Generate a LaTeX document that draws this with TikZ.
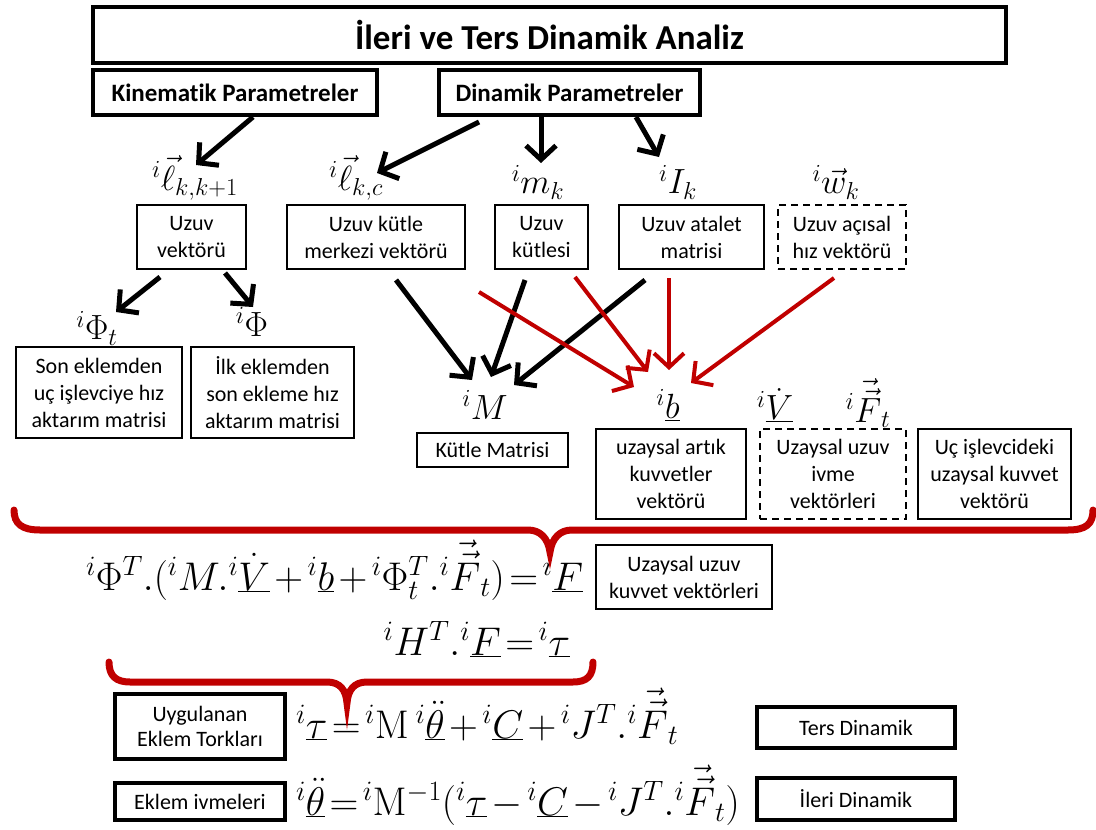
\RequirePackage{fix-cm}
\documentclass[tikz,border=0pt]{standalone}
\usepackage[no-math]{fontspec}
\setmainfont{Carlito}[Ligatures=NoCommon]
\usetikzlibrary{arrows.meta,calc}
\definecolor{bred}{RGB}{192,0,0}
\begin{document}
\begin{tikzpicture}[x=1pt,y=1pt,
 execute at begin picture={\medmuskip=2mu\relax\thickmuskip=2mu\relax},
 tbox/.style={draw, line width=3.5pt, inner sep=0pt, outer sep=0pt, align=center, font=\fontsize{22}{25}\selectfont},
 sbox/.style={draw, line width=1.3pt, inner sep=0pt, outer sep=0pt, align=center, font=\fontsize{22}{27}\selectfont},
 dbox/.style={sbox, dash pattern=on 7pt off 5pt},
 lab/.style={inner sep=0pt, outer sep=0pt, font=\fontsize{35}{40}\selectfont},
 eqn/.style={inner sep=0pt, outer sep=0pt, anchor=base west, font=\fontsize{40}{44}\selectfont},
 barrow/.style={line width=5pt, -{Straight Barb[length=14pt,width=30pt]}},
 rarrow/.style={draw=bred, line width=4pt, -{Straight Barb[length=14pt,width=30pt]}},
 bracepath/.style={draw=bred, line width=7pt, line cap=round}]
\useasboundingbox (0,0) rectangle (1096,-830);
% headers
\node[tbox, minimum width=913pt, minimum height=56pt, font=\fontsize{35}{38}\selectfont\bfseries] (title) at (549.5,-35) {İleri ve Ters Dinamik Analiz};
\node[tbox, minimum width=284pt, minimum height=45pt, font=\fontsize{25}{30}\selectfont\bfseries] (kin) at (235,-92.5) {Kinematik Parametreler};
\node[tbox, minimum width=261pt, minimum height=45pt, font=\fontsize{25}{30}\selectfont\bfseries] (din) at (569.5,-92.5) {Dinamik Parametreler};
% labels row 1
\node[lab] (lkk1) at (195,-178) {${}^{i}\vec{\ell}_{k,k+1}$};
\node[lab] (lkc) at (356,-178) {${}^{i}\vec{\ell}_{k,c}$};
\node[lab] (mk) at (538,-182) {${}^{i}m_{k}$};
\node[lab] (Ik) at (678,-182) {${}^{i}I_{k}$};
\node[lab] (wk) at (836,-182) {${}^{i}\vec{w}_{k}$};
% boxes row 2
\node[sbox, minimum width=109pt, minimum height=64pt] (uv) at (191.5,-237) {Uzuv\\vektörü};
\node[sbox, minimum width=178pt, minimum height=64pt] (ukm) at (376,-237) {Uzuv kütle\\merkezi vektörü};
\node[sbox, minimum width=93pt, minimum height=64pt] (uk) at (541.5,-237) {Uzuv\\kütlesi};
\node[sbox, minimum width=145pt, minimum height=64pt] (ua) at (691.5,-237) {Uzuv atalet\\matrisi};
\node[dbox, minimum width=128pt, minimum height=64pt] (uac) at (842,-237) {Uzuv açısal\\hız vektörü};
% row 3
\node[lab] (phit) at (97,-328) {${}^{i}\Phi_{t}$};
\node[lab] (phi) at (252,-322) {${}^{i}\Phi$};
\node[sbox, minimum width=166pt, minimum height=91pt] (son) at (99,-392.5) {Son eklemden\\uç işlevciye hız\\aktarım matrisi};
\node[sbox, minimum width=163pt, minimum height=91pt] (ilk) at (272.5,-392.5) {İlk eklemden\\son ekleme hız\\aktarım matrisi};
\node[lab] (M) at (485,-405) {${}^{i}M$};
\node[sbox, minimum width=151pt, minimum height=34pt] (kutle) at (492.5,-450) {Kütle Matrisi};
\node[lab] (b) at (668,-405) {${}^{i}\underline{b}$};
\node[lab] (V) at (775,-405) {${}^{i}\underline{\dot{V}}$};
\node[lab] (Ft) at (868,-403) {${}^{i}\vec{\vec{F}}_{t}$};
\node[sbox, minimum width=150pt, minimum height=90pt] (artik) at (671,-474) {uzaysal artık\\kuvvetler\\vektörü};
\node[dbox, minimum width=146pt, minimum height=90pt] (ivme) at (833,-474) {Uzaysal uzuv\\ivme\\vektörleri};
\node[sbox, minimum width=153pt, minimum height=90pt] (uc) at (994.5,-474) {Uç işlevcideki\\uzaysal kuvvet\\vektörü};
% equations
\node[eqn] (eq1) at (86,-590) {${}^{i}\Phi^{T}.({}^{i}M.{}^{i}\underline{\dot{V}}+{}^{i}\underline{b}+{}^{i}\Phi_{t}^{T}.{}^{i}\vec{\vec{F}}_{t})={}^{i}\underline{F}$};
\node[sbox, minimum width=176pt, minimum height=64pt] (kuv) at (684,-577) {Uzaysal uzuv\\kuvvet vektörleri};
\node[eqn, anchor=base east] (eq2) at (570,-655) {${}^{i}H^{T}.{}^{i}\underline{F}={}^{i}\underline{\tau}$};
\node[tbox, minimum width=170pt, minimum height=65pt] (uyg) at (200,-726.5) {Uygulanan\\Eklem Torkları};
\node[eqn] (eq3) at (296,-738) {${}^{i}\underline{\tau}={}^{i}\mathrm{M}\,{}^{i}\underline{\ddot{\theta}}+{}^{i}\underline{C}+{}^{i}J^{T}.{}^{i}\vec{\vec{F}}_{t}$};
\node[tbox, minimum width=198pt, minimum height=41pt] (ters) at (856,-727.5) {Ters Dinamik};
\node[tbox, minimum width=170pt, minimum height=37pt] (ekl) at (200,-801.5) {Eklem ivmeleri};
\node[eqn] (eq4) at (296,-815) {${}^{i}\underline{\ddot{\theta}}={}^{i}\mathrm{M}^{-1}({}^{i}\underline{\tau}-{}^{i}\underline{C}-{}^{i}J^{T}.{}^{i}\vec{\vec{F}}_{t})$};
\node[tbox, minimum width=198pt, minimum height=42pt] (ileri) at (856,-799) {İleri Dinamik};
% black arrows
\draw[barrow] ($(kin.south)+(18,-2)$) -- ($(lkk1.center)+(1,13)$);
\draw[barrow] ($(din.south)+(-90.5,-7)$) -- ($(lkc.center)+(21,5)$);
\draw[barrow] ($(din.south)+(-28.5,-2)$) -- ($(mk.center)+(3,19)$);
\draw[barrow] ($(din.south)+(66.5,-2)$) -- ($(Ik.center)+(-19,25)$);
\draw[barrow] ($(uv.south)+(-31.5,-8)$) -- ($(phit.center)+(19,16)$);
\draw[barrow] ($(uv.south)+(33.5,-4)$) -- ($(phi.center)+(1,15)$);
\draw[barrow] ($(ukm.south)+(20,-11)$) -- ($(M.center)+(-13,25)$);
\draw[barrow] ($(uk.south)+(-16.5,-11)$) -- ($(M.center)+(6,28)$);
\draw[barrow] ($(ua.south)+(-46.5,-11)$) -- ($(M.center)+(29,20)$);
% red arrows
\draw[rarrow] ($(ukm.south east)+(14,-23)$) -- ($(b.center)+(-34,18)$);
\draw[rarrow] ($(uk.south)+(33.5,-8)$) -- ($(b.center)+(-20,33)$);
\draw[rarrow] ($(ua.south)+(-22.5,-9)$) -- ($(b.center)+(1,35)$);
\draw[rarrow] ($(uac.south)+(-8,-9)$) -- ($(b.center)+(23,22)$);
% braces
\draw[bracepath] (14,-510) .. controls (14,-524) and (22,-530) .. (40,-530) -- (528,-530) .. controls (540,-530) and (548,-538) .. (550,-552) .. controls (552,-538) and (560,-530) .. (572,-530) -- (1068,-530) .. controls (1086,-530) and (1093,-524) .. (1093,-510);
\draw[bracepath] (109,-662) .. controls (109,-676) and (116,-682) .. (130,-682) -- (327,-682) .. controls (340,-682) and (346,-690) .. (347,-703) .. controls (348,-690) and (354,-682) .. (367,-682) -- (573,-682) .. controls (587,-682) and (593,-676) .. (593,-662);
\end{tikzpicture}
\end{document}
